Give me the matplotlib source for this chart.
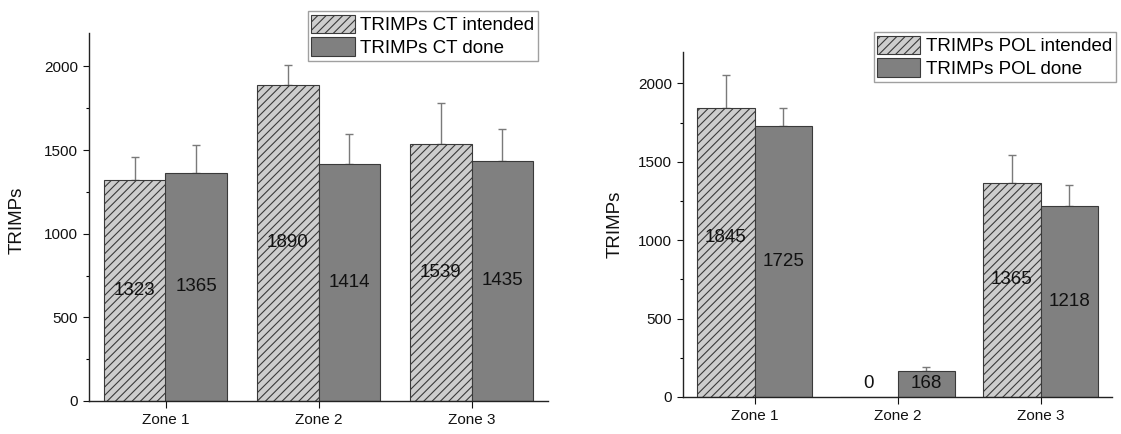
import numpy as np
import matplotlib
matplotlib.use("Agg")
import matplotlib.pyplot as plt
from matplotlib.ticker import MultipleLocator

plt.rcParams["font.family"] = ["Liberation Sans", "DejaVu Sans"]
plt.rcParams["hatch.linewidth"] = 0.8

zones = ["Zone 1", "Zone 2", "Zone 3"]

# training load, continuous training (CT)
ct_intended = [1323, 1890, 1539]
ct_done = [1365, 1414, 1435]
ct_intended_sd = [137, 120, 241]
ct_done_sd = [165, 181, 190]

# training load, polarized training (POL)
pol_intended = [1845, 0, 1365]
pol_done = [1725, 168, 1218]
pol_intended_sd = [210, 0, 180]
pol_done_sd = [120, 22, 137]

hatch_fill = "#cdcdcd"
done_fill = "#808080"
edge = "#3a3a3a"
err_col = "#7a7a7a"


def draw_panel(ax, intended, done, sd_i, sd_d, names, label_frac):
    x = np.arange(1, len(zones) + 1)
    w = 0.4

    ax.bar(x - w / 2, intended, w, color=hatch_fill, edgecolor=edge,
           hatch="////", linewidth=0.8, label=names[0], zorder=2)
    ax.bar(x + w / 2, done, w, color=done_fill, edgecolor=edge,
           linewidth=0.8, label=names[1], zorder=2)

    # upper half of the error bars only
    for xs, vals, sd in [(x - w / 2, intended, sd_i), (x + w / 2, done, sd_d)]:
        for xi, v, s in zip(xs, vals, sd):
            if s > 0:
                ax.errorbar(xi, v, yerr=[[0], [s]], color=err_col, lw=1,
                            capsize=3, capthick=1, zorder=1)

    for xi, v in zip(x - w / 2, intended):
        ax.text(xi, max(v * label_frac, 88), str(v), ha="center", va="center",
                fontsize=13.5, color="#111111", zorder=3)
    for xi, v in zip(x + w / 2, done):
        ax.text(xi, max(v * 0.5, 84), str(v), ha="center", va="center",
                fontsize=13.5, color="#111111", zorder=3)

    ax.set_xlim(0.5, 3.5)
    ax.set_ylim(0, 2200)
    ax.set_xticks(x)
    ax.set_xticklabels(zones)
    ax.yaxis.set_major_locator(MultipleLocator(500))
    ax.yaxis.set_minor_locator(MultipleLocator(250))
    ax.tick_params(axis="y", which="major", length=4.5, width=0.8, labelsize=11, colors="#111111")
    ax.tick_params(axis="y", which="minor", length=2.5, width=0.8)
    ax.tick_params(axis="x", which="major", length=5, width=0.8, labelsize=11, colors="#111111")
    ax.spines["top"].set_visible(False)
    ax.spines["right"].set_visible(False)
    for s in ["left", "bottom"]:
        ax.spines[s].set_linewidth(1.0)
        ax.spines[s].set_color("#222222")
    ax.set_ylabel("TRIMPs", fontsize=13.5, color="#111111")


fig = plt.figure(figsize=(11.21, 4.34), dpi=100)
ax1 = fig.add_axes([89 / 1121, 1 - 401 / 434, 459 / 1121, 368 / 434])
ax2 = fig.add_axes([683 / 1121, 1 - 397 / 434, 429 / 1121, 345 / 434])

draw_panel(ax1, ct_intended, ct_done, ct_intended_sd, ct_done_sd,
           ["TRIMPs CT intended", "TRIMPs CT done"], 0.5)
draw_panel(ax2, pol_intended, pol_done, pol_intended_sd, pol_done_sd,
           ["TRIMPs POL intended", "TRIMPs POL done"], 0.55)

ax1.yaxis.set_label_coords(-0.139, 0.49)
ax2.yaxis.set_label_coords(-0.1375, 0.5)

for ax, anchor in [(ax1, (538 / 1121, 1 - 11 / 434)), (ax2, (1116 / 1121, 1 - 32 / 434))]:
    leg = ax.legend(loc="upper right", bbox_to_anchor=anchor, bbox_transform=fig.transFigure,
                    fontsize=13.5, frameon=True, fancybox=False, borderaxespad=0,
                    borderpad=0.2, handlelength=2.3, handleheight=1.15,
                    handletextpad=0.3, labelspacing=0.15)
    leg.get_frame().set_edgecolor("#888888")
    leg.get_frame().set_linewidth(1.0)

fig.savefig("out.png", dpi=100)
